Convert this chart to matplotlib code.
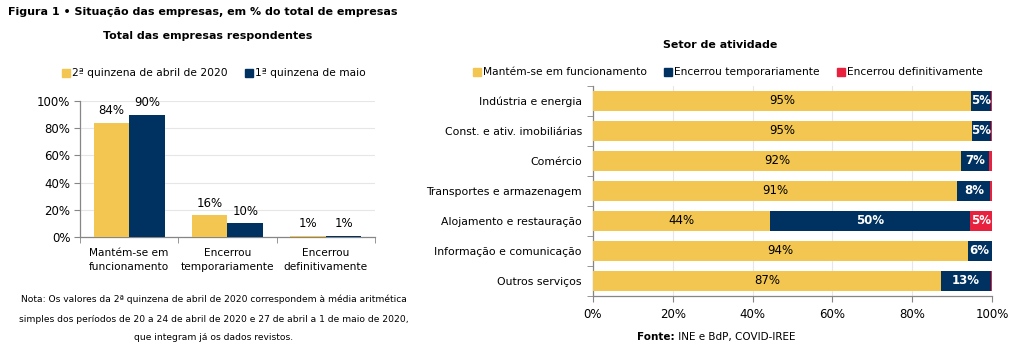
import matplotlib
matplotlib.use("Agg")
import matplotlib.pyplot as plt
from matplotlib.patches import Rectangle

plt.rcParams['font.family'] = ['DejaVu Sans']
plt.rcParams['font.size'] = 8

YELLOW = '#F2C650'
NAVY = '#003261'
RED = '#E8213E'
GRID = '#E6E6E6'
SPINE = '#868686'

# left chart
cats = ["Mantém-se em\nfuncionamento", "Encerrou\ntemporariamente", "Encerrou\ndefinitivamente"]
abril = [84, 16, 1]
maio = [90, 10, 1]
left_series = ["2ª quinzena de abril de 2020", "1ª quinzena de maio"]

# right chart
sectors = ["Indústria e energia", "Const. e ativ. imobiliárias", "Comércio",
           "Transportes e armazenagem", "Alojamento e restauração",
           "Informação e comunicação", "Outros serviços"]
funcionamento = [94.7, 94.9, 92.2, 91.3, 44.4, 93.9, 87.1]
temporario = [5.0, 4.8, 7.0, 8.3, 50.2, 6.0, 12.6]
definitivo = [0.3, 0.3, 0.8, 0.4, 5.4, 0.1, 0.3]
right_series = ["Mantém-se em funcionamento", "Encerrou temporariamente", "Encerrou definitivamente"]

note = ["Nota: Os valores da 2ª quinzena de abril de 2020 correspondem à média aritmética",
        "simples dos períodos de 20 a 24 de abril de 2020 e 27 de abril a 1 de maio de 2020,",
        "que integram já os dados revistos."]

W, H = 1016, 354
fig = plt.figure(figsize=(W / 100, H / 100), dpi=100)

def style_spines(ax):
    for s in ['top', 'right']:
        ax.spines[s].set_visible(False)
    for s in ['left', 'bottom']:
        ax.spines[s].set_color(SPINE)
        ax.spines[s].set_linewidth(0.9)

# ---- left ----
ax1 = fig.add_axes([80 / W, 1 - 237 / H, 295 / W, 136 / H])
x = range(len(cats))
w = 0.36
ax1.bar([i - w / 2 for i in x], abril, w, color=YELLOW, zorder=3)
ax1.bar([i + w / 2 for i in x], maio, w, color=NAVY, zorder=3)
for i in x:
    ax1.text(i - w / 2, abril[i] + 4, f"{abril[i]}%", ha='center', va='bottom', fontsize=8.5)
    ax1.text(i + w / 2, maio[i] + 4, f"{maio[i]}%", ha='center', va='bottom', fontsize=8.5)
ax1.set_xlim(-0.5, 2.5)
ax1.set_ylim(0, 100)
ax1.set_yticks(range(0, 101, 20))
ax1.set_yticklabels([f"{v}%" for v in range(0, 101, 20)], fontsize=8.5)
ax1.set_xticks(list(x))
ax1.set_xticklabels(cats, fontsize=7.6, linespacing=1.5)
ax1.set_xticks([-0.5, 0.5, 1.5, 2.5], minor=True)
ax1.tick_params(axis='x', which='major', length=0, pad=8)
ax1.tick_params(axis='x', which='minor', length=4, color=SPINE)
ax1.tick_params(axis='y', length=4, color=SPINE, pad=3)
ax1.yaxis.grid(True, color=GRID, linewidth=0.8, zorder=0)
style_spines(ax1)

# ---- right ----
ax2 = fig.add_axes([593 / W, 1 - 296 / H, 399 / W, 210 / H])
rows = range(len(sectors))
h = 0.66
ax2.barh(rows, funcionamento, h, color=YELLOW, zorder=3)
ax2.barh(rows, temporario, h, left=funcionamento, color=NAVY, zorder=3)
lefts = [a + b for a, b in zip(funcionamento, temporario)]
ax2.barh(rows, definitivo, h, left=lefts, color=RED, zorder=3)
for i in rows:
    ax2.text(funcionamento[i] / 2, i, f"{round(funcionamento[i])}%", ha='center', va='center', fontsize=8.5)
    ax2.text(funcionamento[i] + temporario[i] / 2, i, f"{round(temporario[i])}%", ha='center', va='center',
             fontsize=8.5, color='white', fontweight='bold')
    if definitivo[i] >= 3:
        ax2.text(lefts[i] + definitivo[i] / 2, i, f"{round(definitivo[i])}%", ha='center', va='center',
                 fontsize=8.5, color='white', fontweight='bold')
ax2.set_xlim(0, 100)
ax2.set_ylim(len(sectors) - 0.5, -0.5)
ax2.set_xticks(range(0, 101, 20))
ax2.set_xticklabels([f"{v}%" for v in range(0, 101, 20)], fontsize=8.5)
ax2.set_yticks(list(rows))
ax2.set_yticklabels(sectors, fontsize=7.8)
ax2.set_yticks([r - 0.5 for r in range(len(sectors) + 1)], minor=True)
ax2.tick_params(axis='y', which='major', length=0, pad=8)
ax2.tick_params(axis='y', which='minor', length=4, color=SPINE)
ax2.tick_params(axis='x', length=4, color=SPINE, pad=5)
ax2.xaxis.grid(True, color=GRID, linewidth=0.8, zorder=0)
style_spines(ax2)

# ---- texts ----
fig.text(8 / W, 1 - 12 / H, "Figura 1 • Situação das empresas, em % do total de empresas",
         fontsize=8, fontweight='bold', va='center', ha='left')
fig.text(208 / W, 1 - 36 / H, "Total das empresas respondentes", fontsize=7.9, fontweight='bold',
         ha='center', va='center')
fig.text(720 / W, 1 - 45 / H, "Setor de atividade", fontsize=7.9, fontweight='bold',
         ha='center', va='center')

renderer = fig.canvas.get_renderer()

def legend_row(items, colors, x0, y, gap):
    xx = x0
    for label, c in zip(items, colors):
        fig.patches.append(Rectangle((xx / W, (H - y - 4) / H), 8 / W, 8 / H,
                                     transform=fig.transFigure, color=c, figure=fig))
        t = fig.text((xx + 10) / W, 1 - y / H, label, fontsize=7.7, va='center', ha='left')
        xx = t.get_window_extent(renderer).x1 + gap

legend_row(left_series, [YELLOW, NAVY], 62, 73, 17)
legend_row(right_series, [YELLOW, NAVY, RED], 473, 72, 17)

for line, yy in zip(note, [299, 319, 338]):
    fig.text(214 / W, 1 - yy / H, line, fontsize=6.6, ha='center', va='center')

# Fonte line: bold prefix + normal rest, centred together
t1 = fig.text(0, 1 - 337 / H, "Fonte:", fontsize=7.5, fontweight='bold', ha='left', va='center')
t2 = fig.text(0, 1 - 337 / H, " INE e BdP, COVID-IREE", fontsize=7.5, ha='left', va='center')
w1 = t1.get_window_extent(renderer).width
w2 = t2.get_window_extent(renderer).width
start = 716 - (w1 + w2) / 2
t1.set_x(start / W)
t2.set_x((start + w1) / W)

fig.savefig("out.png", dpi=100)
